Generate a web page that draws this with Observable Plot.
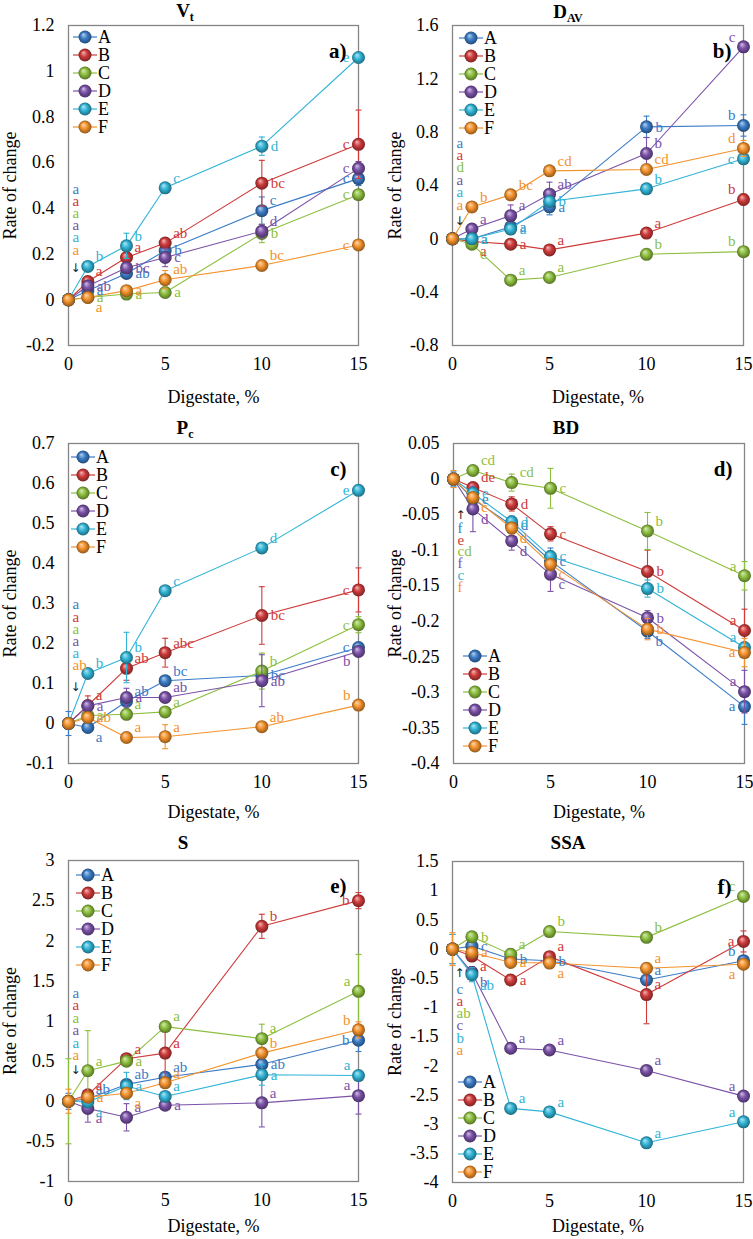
<!DOCTYPE html>
<html>
<head>
<meta charset="utf-8">
<script src="https://cdn.jsdelivr.net/npm/d3@7"></script>
<script src="https://cdn.jsdelivr.net/npm/@observablehq/plot@0.6"></script>
<style>
  body { margin: 0; background: #fff; }
  #page { position: relative; width: 753px; height: 1239px; overflow: hidden;
          font-family: "Liberation Serif", "Tinos", "Times New Roman", "DejaVu Serif", serif; color: #000; }
  .panel { position: absolute; }
  .title { position: absolute; font-weight: bold; font-size: 19px; line-height: 20px;
           transform: translate(-50%, -50%); white-space: nowrap; }
  .title sub { font-size: 12px; vertical-align: -4px; line-height: 0; }
  .legend { position: absolute; font-size: 18px; }
  .legend .row { display: flex; align-items: center; height: 18px; }
  .legend svg { display: block; }
</style>
</head>
<body>
<div id="page"></div>
<script>
// ---------- shared data ----------
const xs = [0, 1, 3, 5, 10, 15];
const seriesNames = ["A", "B", "C", "D", "E", "F"];
const seriesColors = ["#3b7cc7", "#cf3a3a", "#8dbf3e", "#7b52a8", "#31b4d6", "#f4922c"];
const xTicks = [0, 5, 10, 15];

// ---------- a) Vt ----------
const vtTicks = [-0.2, 0, 0.2, 0.4, 0.6, 0.8, 1, 1.2];
const vtValues = [
  [0, 0.04, 0.115, 0.215, 0.39, 0.53],
  [0, 0.08, 0.185, 0.248, 0.51, 0.68],
  [0, 0.01, 0.025, 0.032, 0.29, 0.46],
  [0, 0.06, 0.14, 0.185, 0.30, 0.575],
  [0, 0.146, 0.236, 0.49, 0.672, 1.06],
  [0, 0.01, 0.04, 0.088, 0.15, 0.24]
];
const vtErrors = [
  [0, 0.01, 0.02, 0.02, 0.06, 0.03],
  [0, 0.02, 0.02, 0.02, 0.1, 0.15],
  [0, 0.005, 0.01, 0.01, 0.04, 0.02],
  [0, 0.01, 0.02, 0.04, 0.03, 0.03],
  [0, 0.01, 0.055, 0.01, 0.04, 0.01],
  [0, 0.005, 0.01, 0.04, 0.01, 0.01]
];
const vtLetters = ["a ab b c c", "a a ab bc c", "a a a b c", "ab bc c d c", "b b c d e", "a a ab bc c"];
const vtBase = ["a", "a", "a", "a", "a", "a"];

// ---------- b) DAV ----------
const davTicks = [-0.8, -0.4, 0, 0.4, 0.8, 1.2, 1.6];
const davValues = [
  [0, 0.0, 0.09, 0.24, 0.84, 0.85],
  [0, -0.02, -0.04, -0.083, 0.043, 0.295],
  [0, -0.04, -0.31, -0.29, -0.116, -0.096],
  [0, 0.073, 0.174, 0.335, 0.64, 1.44],
  [0, 0.0, 0.073, 0.28, 0.375, 0.6],
  [0, 0.239, 0.33, 0.51, 0.52, 0.678]
];
const davErrors = [
  [0, 0.01, 0.02, 0.06, 0.08, 0.08],
  [0, 0.01, 0.02, 0.02, 0.03, 0.04],
  [0, 0.01, 0.02, 0.02, 0.02, 0.02],
  [0, 0.01, 0.08, 0.09, 0.12, 0.04],
  [0, 0.01, 0.02, 0.02, 0.03, 0.03],
  [0, 0.01, 0.04, 0.02, 0.03, 0.06]
];
const davLetters = ["a a a b b", "a a a a b", "c a a b b", "a a ab b c", "a a b b c", "b bc cd cd d"];
const davBase = ["a", "a", "d", "a", "a", "a"];

// ---------- c) Pc ----------
const pcTicks = [-0.1, 0, 0.1, 0.2, 0.3, 0.4, 0.5, 0.6, 0.7];
const pcValues = [
  [0, -0.01, 0.055, 0.107, 0.12, 0.19],
  [0, 0.045, 0.138, 0.177, 0.27, 0.334],
  [0, 0.02, 0.023, 0.029, 0.131, 0.247],
  [0, 0.044, 0.065, 0.065, 0.107, 0.18],
  [0, 0.125, 0.165, 0.332, 0.439, 0.583],
  [0, 0.015, -0.035, -0.033, -0.008, 0.046]
];
const pcErrors = [
  [0.03, 0.005, 0.01, 0.01, 0.02, 0.01],
  [0, 0.024, 0.03, 0.036, 0.072, 0.055],
  [0, 0.005, 0.01, 0.01, 0.045, 0.02],
  [0, 0.01, 0.023, 0.01, 0.065, 0.01],
  [0, 0.01, 0.063, 0.01, 0.01, 0.01],
  [0, 0.005, 0.01, 0.03, 0.01, 0.01]
];
const pcLetters = ["a ab bc bc c", "a ab abc bc c", "a a a b c", "a a ab ab b", "b b c d e", "ab a a ab b"];
const pcBase = ["a", "a", "a", "a", "a", "ab"];

// ---------- d) BD ----------
const bdTicks = [-0.4, -0.35, -0.3, -0.25, -0.2, -0.15, -0.1, -0.05, 0, 0.05];
const bdValues = [
  [0, -0.028, -0.065, -0.115, -0.214, -0.32],
  [0, -0.012, -0.035, -0.077, -0.13, -0.213],
  [0, 0.012, -0.005, -0.013, -0.073, -0.136],
  [0, -0.042, -0.087, -0.134, -0.195, -0.299],
  [0, -0.02, -0.06, -0.109, -0.154, -0.237],
  [0, -0.026, -0.069, -0.12, -0.211, -0.244]
];
const bdErrors = [
  [0.01, 0.005, 0.005, 0.018, 0.01, 0.025],
  [0, 0.004, 0.01, 0.01, 0.03, 0.03],
  [0, 0.004, 0.012, 0.028, 0.026, 0.02],
  [0, 0.032, 0.013, 0.024, 0.01, 0.03],
  [0, 0.005, 0.008, 0.008, 0.012, 0.005],
  [0.012, 0.004, 0.008, 0.008, 0.015, 0.02]
];
const bdLetters = ["e d c b a", "de d c b a", "cd cd c b a", "d d c b a", "e d c b a", "c d c b a"];
const bdBase = ["f", "e", "cd", "f", "c", "f"];

// ---------- e) S ----------
const sTicks = [-1, -0.5, 0, 0.5, 1, 1.5, 2, 2.5, 3];
const sValues = [
  [0, 0.03, 0.21, 0.3, 0.46, 0.76],
  [0, 0.08, 0.53, 0.6, 2.18, 2.5],
  [0, 0.38, 0.5, 0.93, 0.78, 1.37],
  [0, -0.09, -0.2, -0.05, -0.02, 0.07],
  [0, -0.01, 0.19, 0.06, 0.33, 0.32],
  [0, 0.05, 0.1, 0.23, 0.6, 0.89]
];
const sErrors = [
  [0.1, 0.08, 0.05, 0.05, 0.06, 0.14],
  [0, 0.05, 0.05, 0.3, 0.15, 0.1],
  [0.53, 0.5, 0.05, 0.06, 0.18, 0.46],
  [0, 0.17, 0.17, 0.05, 0.3, 0.23],
  [0, 0.05, 0.17, 0.05, 0.13, 0.05],
  [0.15, 0.06, 0.05, 0.05, 0.05, 0.1]
];
const sLetters = ["ab ab ab ab b", "a a a b b", "a a a a a", "a a a a a", "a a a a a", "a a a b b"];
const sBase = ["a", "a", "a", "a", "a", "a"];

// ---------- f) SSA ----------
const ssaTicks = [-4, -3.5, -3, -2.5, -2, -1.5, -1, -0.5, 0, 0.5, 1, 1.5];
const ssaValues = [
  [0, 0.05, -0.17, -0.2, -0.53, -0.2],
  [0, -0.12, -0.53, -0.13, -0.78, 0.13],
  [0, 0.21, -0.09, 0.3, 0.2, 0.9],
  [0, -0.4, -1.7, -1.73, -2.08, -2.52],
  [0, -0.44, -2.73, -2.79, -3.32, -2.96],
  [0, -0.06, -0.23, -0.24, -0.33, -0.26]
];
const ssaErrors = [
  [0.25, 0.05, 0.05, 0.05, 0.05, 0.05],
  [0, 0.05, 0.05, 0.05, 0.5, 0.18],
  [0, 0.05, 0.05, 0.05, 0.05, 0.05],
  [0, 0.1, 0.05, 0.05, 0.05, 0.05],
  [0.25, 0.12, 0.05, 0.05, 0.05, 0.05],
  [0.28, 0.05, 0.05, 0.05, 0.05, 0.05]
];
const ssaLetters = ["c b b a b", "a a a a a", "b a b b c", "b a a a a", "ab a a a a", "a a a a a"];
const ssaBase = ["c", "a", "ab", "c", "b", "a"];

// ---------- layout ----------
const serifStack = "'Liberation Serif', Tinos, 'Times New Roman', 'DejaVu Serif', serif";

// label placement around a marker: r = right, ur = upper right, lr = lower right, l / ul / ll = left side
const PLACE = {
  r:  { dx: 9,  dy: 0,   anchor: "start" },
  ur: { dx: 8,  dy: -10, anchor: "start" },
  lr: { dx: 8,  dy: 10,  anchor: "start" },
  l:  { dx: -9, dy: 0,   anchor: "end" },
  ul: { dx: -8, dy: -10, anchor: "end" },
  ll: { dx: -8, dy: 10,  anchor: "end" }
};

const panels = [
  { title: "V<sub>t</sub>", tag: "a)", ticks: vtTicks, values: vtValues, errors: vtErrors, letters: vtLetters, base: vtBase,
    left: 0, top: 0, width: 376, height: 410, mt: 25, mb: 65, ml: 68, mr: 18, labelLeft: 65,
    titleX: 185, titleY: 11, legendX: 72, legendY: 28,
    stack: { dir: "up", arrow: 32, near: 50, step: 12.2 },
    codes: ["r r r ur l", "ur ur ur r l", "r r r r l", "r r r ur l", "ur ur ur r l", "lr r ur ur l"] },
  { title: "D<sub>AV</sub>", tag: "b)", ticks: davTicks, values: davValues, errors: davErrors, letters: davLetters, base: davBase,
    left: 376, top: 0, width: 377, height: 410, mt: 25, mb: 65, ml: 76, mr: 10, labelLeft: 64,
    titleX: 568, titleY: 12, legendX: 458, legendY: 29,
    stack: { dir: "up", arrow: 18, near: 34, step: 12.4 },
    codes: ["r r r r ul", "lr r ur ur ul", "lr ur ur ur ul", "ur ur ur ur ul", "r r r ur l", "ur ur ur ur ul"] },
  { title: "P<sub>c</sub>", tag: "c)", ticks: pcTicks, values: pcValues, errors: pcErrors, letters: pcLetters, base: pcBase,
    left: 0, top: 415, width: 376, height: 410, mt: 28, mb: 62, ml: 68, mr: 18, labelLeft: 65,
    titleX: 185, titleY: 428, legendX: 70, legendY: 448,
    stack: { dir: "up", arrow: 36, near: 58, step: 12.2 },
    codes: ["lr ur ur r l", "ur ur ur r l", "r ur ur ur l", "r r ur r ll", "ur ur ur ur l", "r ur ur ur ul"] },
  { title: "BD", tag: "d)", ticks: bdTicks, values: bdValues, errors: bdErrors, letters: bdLetters, base: bdBase,
    left: 376, top: 415, width: 377, height: 410, mt: 28, mb: 62, ml: 77, mr: 9, labelLeft: 65,
    titleX: 566, titleY: 428, legendX: 462, legendY: 647,
    stack: { dir: "down", arrow: 36, near: 49, step: 11.8 },
    codes: ["r r r lr l", "ur r r r ul", "ur ur r ur ul", "lr lr lr r ul", "r r r r ul", "lr lr lr r l"] },
  { title: "S", tag: "e)", ticks: sTicks, values: sValues, errors: sErrors, letters: sLetters, base: sBase,
    left: 0, top: 830, width: 376, height: 409, mt: 30, mb: 58, ml: 68, mr: 18, labelLeft: 65,
    titleX: 183, titleY: 843, legendX: 75, legendY: 866,
    stack: { dir: "up", arrow: 31, near: 46, step: 12.4 },
    codes: ["ur ur ur r l", "ur ur ur ur l", "ur r ur ur ul", "lr ur r ur ul", "lr r ur r ul", "r lr ur ur ul"] },
  { title: "SSA", tag: "f)", ticks: ssaTicks, values: ssaValues, errors: ssaErrors, letters: ssaLetters, base: ssaBase,
    left: 376, top: 830, width: 377, height: 409, mt: 31, mb: 57, ml: 76, mr: 10, labelLeft: 64,
    titleX: 568, titleY: 843, legendX: 457, legendY: 1073,
    stack: { dir: "down", arrow: 24, near: 40, step: 12.2 },
    codes: ["r r r ur ul", "lr r ur ur l", "r ur ur ur ul", "lr ur ur ur ul", "lr ur ur ur ul", "r r lr ur ll"] }
];

const page = document.getElementById("page");

// shaded sphere fills shared by every marker
(function makeGradients() {
  const ns = "http://www.w3.org/2000/svg";
  const svg = document.createElementNS(ns, "svg");
  svg.setAttribute("width", 0);
  svg.setAttribute("height", 0);
  svg.style.position = "absolute";
  const defs = document.createElementNS(ns, "defs");
  seriesColors.forEach((c, i) => {
    const g = document.createElementNS(ns, "radialGradient");
    g.setAttribute("id", `ball-${i}`);
    g.setAttribute("cx", "0.5"); g.setAttribute("cy", "0.5"); g.setAttribute("r", "0.5");
    g.setAttribute("fx", "0.36"); g.setAttribute("fy", "0.3");
    [[0, d3.interpolateRgb(c, "#ffffff")(0.65)], [0.5, c], [1, d3.interpolateRgb(c, "#000000")(0.4)]].forEach(([o, col]) => {
      const s = document.createElementNS(ns, "stop");
      s.setAttribute("offset", o);
      s.setAttribute("stop-color", col);
      g.appendChild(s);
    });
    defs.appendChild(g);
  });
  svg.appendChild(defs);
  page.appendChild(svg);
})();

// horizontal cap for error bars
const cap = {
  draw(ctx, size) {
    const r = Math.sqrt(size / Math.PI);
    ctx.moveTo(-r, 0);
    ctx.lineTo(r, 0);
  }
};

const fmt = (d) => String(+d.toFixed(3));

function drawPanel(p) {
  const marks = [Plot.frame({ stroke: "#858585", strokeWidth: 1.3 })];

  p.values.forEach((vals, i) => {
    const c = seriesColors[i];
    const rows = xs.map((x, j) => ({ x, y: vals[j], e: p.errors[i][j] }));
    const err = rows.filter((d) => d.e > 0);
    marks.push(
      Plot.line(rows, { x: "x", y: "y", stroke: c, strokeWidth: 1.1 }),
      Plot.ruleX(err, { x: "x", y1: (d) => d.y - d.e, y2: (d) => d.y + d.e, stroke: c, strokeWidth: 1.1 }),
      Plot.dot(err, { x: "x", y: (d) => d.y + d.e, symbol: cap, r: 3, fill: "none", stroke: c, strokeWidth: 1.1 }),
      Plot.dot(err, { x: "x", y: (d) => d.y - d.e, symbol: cap, r: 3, fill: "none", stroke: c, strokeWidth: 1.1 }),
      Plot.dot(rows, { x: "x", y: "y", r: 6.5, fill: `url(#ball-${i})`, stroke: "none" })
    );
  });

  // significance letters beside each marker
  p.letters.forEach((str, i) => {
    const letters = str.split(" ");
    const codes = p.codes[i].split(" ");
    const rows = letters.map((t, k) => ({ x: xs[k + 1], y: p.values[i][k + 1], t, code: codes[k] }));
    for (const code of new Set(codes)) {
      const P = PLACE[code];
      marks.push(Plot.text(rows.filter((d) => d.code === code), {
        x: "x", y: "y", text: "t", fill: seriesColors[i], dx: P.dx, dy: P.dy,
        textAnchor: P.anchor, fontSize: 15, fontFamily: serifStack
      }));
    }
  });

  // letters for the 0 % control, stacked next to the first point
  const s = p.stack;
  p.base.forEach((t, i) => {
    const dy = s.dir === "up" ? -(s.near + (5 - i) * s.step) : s.near + i * s.step;
    marks.push(Plot.text([{ x: xs[0], y: p.values[i][0] }], {
      x: "x", y: "y", text: () => t, fill: seriesColors[i], dx: 4, dy, textAnchor: "start",
      fontSize: 15, fontFamily: serifStack
    }));
  });
  marks.push(Plot.text([{ x: xs[0], y: p.values[5][0] }], {
    x: "x", y: "y", text: () => (s.dir === "up" ? "↓" : "↑"), fill: "#222",
    dx: 7, dy: s.dir === "up" ? -s.arrow : s.arrow, fontSize: 12, fontFamily: "DejaVu Sans"
  }));

  // panel tag
  marks.push(Plot.text([p.tag], {
    frameAnchor: "top-right", text: (d) => d, dx: -12, dy: 18, textAnchor: "end",
    fontWeight: "bold", fontSize: 21, fontFamily: serifStack
  }));

  marks.push(
    Plot.axisX({ ticks: xTicks, tickSize: 0, tickPadding: 12, label: "Digestate, %", labelAnchor: "center",
                 labelOffset: p.mb - 8, labelArrow: "none", fontFamily: serifStack, fontSize: 18 }),
    Plot.axisY({ ticks: p.ticks, tickSize: 0, tickPadding: 14, tickFormat: fmt, label: "Rate of change",
                 labelAnchor: "center", labelOffset: p.labelLeft, labelArrow: "none", fontFamily: serifStack, fontSize: 18 })
  );

  const chart = Plot.plot({
    width: p.width, height: p.height,
    marginTop: p.mt, marginBottom: p.mb, marginLeft: p.ml, marginRight: p.mr,
    x: { domain: [0, 15] },
    y: { domain: [p.ticks[0], p.ticks[p.ticks.length - 1]] },
    style: { fontFamily: serifStack, fontSize: "18px",
             background: "transparent", color: "#000", overflow: "visible" },
    marks
  });

  const wrap = document.createElement("div");
  wrap.className = "panel";
  wrap.style.left = p.left + "px";
  wrap.style.top = p.top + "px";
  wrap.appendChild(chart);
  page.appendChild(wrap);

  const title = document.createElement("div");
  title.className = "title";
  title.style.left = p.titleX + "px";
  title.style.top = p.titleY + "px";
  title.innerHTML = p.title;
  page.appendChild(title);

  const legend = document.createElement("div");
  legend.className = "legend";
  legend.style.left = p.legendX + "px";
  legend.style.top = p.legendY + "px";
  seriesNames.forEach((name, i) => {
    const row = document.createElement("div");
    row.className = "row";
    row.innerHTML =
      `<svg width="26" height="16"><line x1="1" x2="25" y1="8" y2="8" stroke="${seriesColors[i]}" stroke-width="1.2"/>` +
      `<circle cx="13" cy="8" r="6.5" fill="url(#ball-${i})"/></svg><span>${name}</span>`;
    legend.appendChild(row);
  });
  page.appendChild(legend);
}

panels.forEach(drawPanel);
</script>
</body>
</html>
